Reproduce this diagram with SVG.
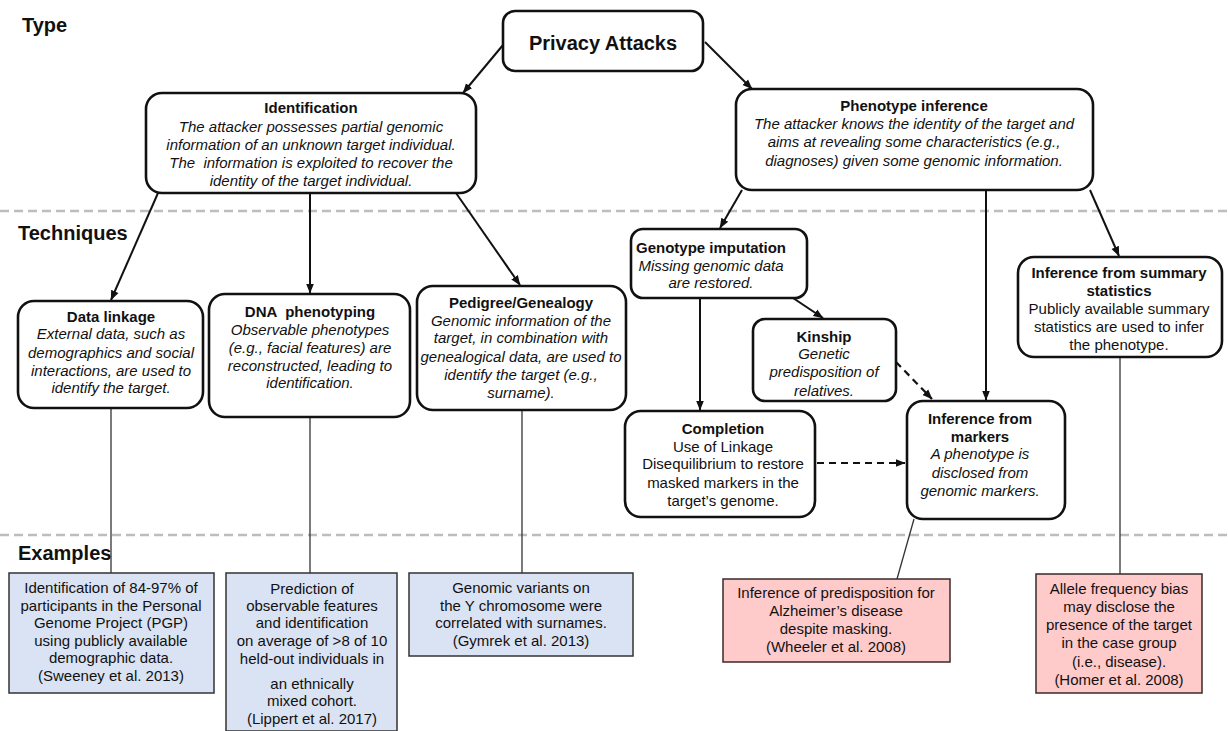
<svg xmlns="http://www.w3.org/2000/svg" width="1228" height="731" viewBox="0 0 1228 731">
<style>
text{font-family:"Liberation Sans",Arial,sans-serif;fill:#111;}
.hd{font-size:20px;font-weight:bold;}
.t{font-size:15px;font-weight:bold;text-anchor:middle;}
.i{font-size:15px;font-style:italic;text-anchor:middle;}
.r{font-size:15px;text-anchor:middle;}
.node{fill:#fff;stroke:#111;stroke-width:2.6;}
.blue{fill:#dae3f3;stroke:#333;stroke-width:1.5;}
.pink{fill:#ffcaca;stroke:#3a2a2a;stroke-width:1.5;}
.sep{stroke:#bdbdbd;stroke-width:2.5;stroke-dasharray:9 5;fill:none;}
.arr{stroke:#111;stroke-width:2;fill:none;marker-end:url(#ah);}
.dash{stroke:#111;stroke-width:2.2;fill:none;stroke-dasharray:7 5;marker-end:url(#ah);}
.ln{stroke:#333;stroke-width:1.3;fill:none;}
</style>
<defs>
<marker id="ah" markerUnits="userSpaceOnUse" markerWidth="10" markerHeight="10" viewBox="0 0 10 10" refX="9.5" refY="5" orient="auto">
<path d="M0,1 L10,5 L0,9 Z" fill="#111"/>
</marker>
</defs>
<rect width="1228" height="731" fill="#fff"/>
<g id="separators">
<line class="sep" x1="0" y1="211" x2="1228" y2="211"/>
<line class="sep" x1="0" y1="535" x2="1228" y2="535"/>
</g>
<g id="headers">
<text class="hd" x="22" y="32">Type</text>
<text class="hd" x="18" y="240">Techniques</text>
<text class="hd" x="18" y="560">Examples</text>
</g>
<g id="connectors">
<line class="arr" x1="503" y1="45" x2="463" y2="93"/>
<line class="arr" x1="705" y1="42" x2="752" y2="89"/>
<line class="arr" x1="158" y1="193" x2="111" y2="300"/>
<line class="arr" x1="310" y1="193" x2="310" y2="293"/>
<line class="arr" x1="456" y1="193" x2="520" y2="285"/>
<line class="arr" x1="742" y1="190" x2="720" y2="228"/>
<line class="arr" x1="986" y1="190" x2="986" y2="400"/>
<line class="arr" x1="1090" y1="190" x2="1119" y2="256"/>
<line class="arr" x1="700" y1="298" x2="700" y2="410"/>
<line class="arr" x1="790" y1="296" x2="823" y2="318"/>
<line class="dash" x1="896" y1="362" x2="932" y2="399"/>
<line class="dash" x1="817" y1="463" x2="905" y2="463"/>
<line class="ln" x1="111" y1="408" x2="111" y2="573"/>
<line class="ln" x1="310" y1="417" x2="310" y2="573"/>
<line class="ln" x1="522" y1="410" x2="522" y2="573"/>
<line class="ln" x1="914" y1="519" x2="897" y2="579"/>
<line class="ln" x1="1120" y1="357" x2="1120" y2="574"/>
</g>
<g id="privacy-attacks">
<rect class="node" x="503" y="11" width="200" height="60" rx="12"/>
<text class="t" x="603" y="50" style="font-size:20px">Privacy Attacks</text>
</g>
<g id="identification">
<rect class="node" x="146" y="93" width="330" height="100" rx="16"/>
<text class="t" x="311" y="113">Identification</text>
<text class="i" x="311" y="132">The attacker possesses partial genomic</text>
<text class="i" x="311" y="150">information of an unknown target individual.</text>
<text class="i" x="311" y="168" xml:space="preserve">The  information is exploited to recover the</text>
<text class="i" x="311" y="186">identity of the target individual.</text>
</g>
<g id="phenotype-inference">
<rect class="node" x="736" y="89" width="357" height="101" rx="16"/>
<text class="t" x="914" y="111">Phenotype inference</text>
<text class="i" x="914" y="129">The attacker knows the identity of the target and</text>
<text class="i" x="914" y="147">aims at revealing some characteristics (e.g.,</text>
<text class="i" x="914" y="166">diagnoses) given some genomic information.</text>
</g>
<g id="data-linkage">
<rect class="node" x="18" y="301" width="185" height="107" rx="16"/>
<text class="t" x="111" y="322">Data linkage</text>
<text class="i" x="111" y="339">External data, such as</text>
<text class="i" x="111" y="358">demographics and social</text>
<text class="i" x="111" y="376">interactions, are used to</text>
<text class="i" x="111" y="393">identify the target.</text>
</g>
<g id="dna-phenotyping">
<rect class="node" x="209" y="294" width="201" height="123" rx="16"/>
<text class="t" x="310" y="317" xml:space="preserve">DNA  phenotyping</text>
<text class="i" x="310" y="335">Observable phenotypes</text>
<text class="i" x="310" y="353">(e.g.,  facial features) are</text>
<text class="i" x="310" y="371">reconstructed, leading to</text>
<text class="i" x="310" y="388">identification.</text>
</g>
<g id="pedigree-genealogy">
<rect class="node" x="417" y="286" width="209" height="124" rx="16"/>
<text class="t" x="521" y="308">Pedigree/Genealogy</text>
<text class="i" x="521" y="326">Genomic information of the</text>
<text class="i" x="521" y="343">target, in combination with</text>
<text class="i" x="521" y="362">genealogical data, are used to</text>
<text class="i" x="521" y="380">identify the target (e.g.,</text>
<text class="i" x="521" y="398">surname).</text>
</g>
<g id="genotype-imputation">
<rect class="node" x="631" y="229" width="176" height="69" rx="12"/>
<text class="t" x="711" y="253">Genotype imputation</text>
<text class="i" x="711" y="271">Missing genomic data</text>
<text class="i" x="711" y="288">are restored.</text>
</g>
<g id="kinship">
<rect class="node" x="753" y="319" width="143" height="82" rx="12"/>
<text class="t" x="824" y="342">Kinship</text>
<text class="i" x="824" y="359">Genetic</text>
<text class="i" x="824" y="377">predisposition of</text>
<text class="i" x="824" y="396">relatives.</text>
</g>
<g id="completion">
<rect class="node" x="625" y="411" width="190" height="106" rx="16"/>
<text class="t" x="723" y="434">Completion</text>
<text class="r" x="723" y="452">Use of Linkage</text>
<text class="r" x="723" y="469">Disequilibrium to restore</text>
<text class="r" x="723" y="488">masked markers in the</text>
<text class="r" x="723" y="506">target’s genome.</text>
</g>
<g id="inference-from-markers">
<rect class="node" x="907" y="401" width="158" height="118" rx="16"/>
<text class="t" x="980" y="424">Inference from</text>
<text class="t" x="980" y="442">markers</text>
<text class="i" x="980" y="459">A phenotype is</text>
<text class="i" x="980" y="478">disclosed from</text>
<text class="i" x="980" y="496">genomic markers.</text>
</g>
<g id="inference-summary-statistics">
<rect class="node" x="1018" y="257" width="204" height="100" rx="16"/>
<text class="t" x="1119" y="278">Inference from summary</text>
<text class="t" x="1119" y="296">statistics</text>
<text class="r" x="1119" y="314">Publicly available summary</text>
<text class="r" x="1119" y="332">statistics are used to infer</text>
<text class="r" x="1119" y="350">the phenotype.</text>
</g>
<g id="example-sweeney">
<rect class="blue" x="9" y="573" width="205" height="120"/>
<text class="r" x="111" y="593">Identification of 84-97% of</text>
<text class="r" x="111" y="611">participants in the Personal</text>
<text class="r" x="111" y="628">Genome Project (PGP)</text>
<text class="r" x="111" y="646">using publicly available</text>
<text class="r" x="111" y="663">demographic data.</text>
<text class="r" x="111" y="681">(Sweeney et al. 2013)</text>
</g>
<g id="example-lippert">
<rect class="blue" x="226" y="573" width="171" height="158"/>
<text class="r" x="312" y="594">Prediction of</text>
<text class="r" x="312" y="611">observable features</text>
<text class="r" x="312" y="628">and identification</text>
<text class="r" x="312" y="646">on average of &gt;8 of 10</text>
<text class="r" x="312" y="664">held-out individuals in</text>
<text class="r" x="312" y="689">an ethnically</text>
<text class="r" x="312" y="706">mixed cohort.</text>
<text class="r" x="312" y="724">(Lippert et al. 2017)</text>
</g>
<g id="example-gymrek">
<rect class="blue" x="409" y="573" width="224" height="83"/>
<text class="r" x="521" y="593">Genomic variants on</text>
<text class="r" x="521" y="611">the Y chromosome were</text>
<text class="r" x="521" y="628">correlated with surnames.</text>
<text class="r" x="521" y="646">(Gymrek et al. 2013)</text>
</g>
<g id="example-wheeler">
<rect class="pink" x="723" y="579" width="227" height="83"/>
<text class="r" x="836" y="598">Inference of predisposition for</text>
<text class="r" x="836" y="616">Alzheimer’s disease</text>
<text class="r" x="836" y="634">despite masking.</text>
<text class="r" x="836" y="652">(Wheeler et al. 2008)</text>
</g>
<g id="example-homer">
<rect class="pink" x="1036" y="574" width="166" height="119"/>
<text class="r" x="1119" y="594">Allele frequency bias</text>
<text class="r" x="1119" y="612">may disclose the</text>
<text class="r" x="1119" y="630">presence of the target</text>
<text class="r" x="1119" y="648">in the case group</text>
<text class="r" x="1119" y="667">(i.e., disease).</text>
<text class="r" x="1119" y="685">(Homer et al. 2008)</text>
</g>
</svg>
